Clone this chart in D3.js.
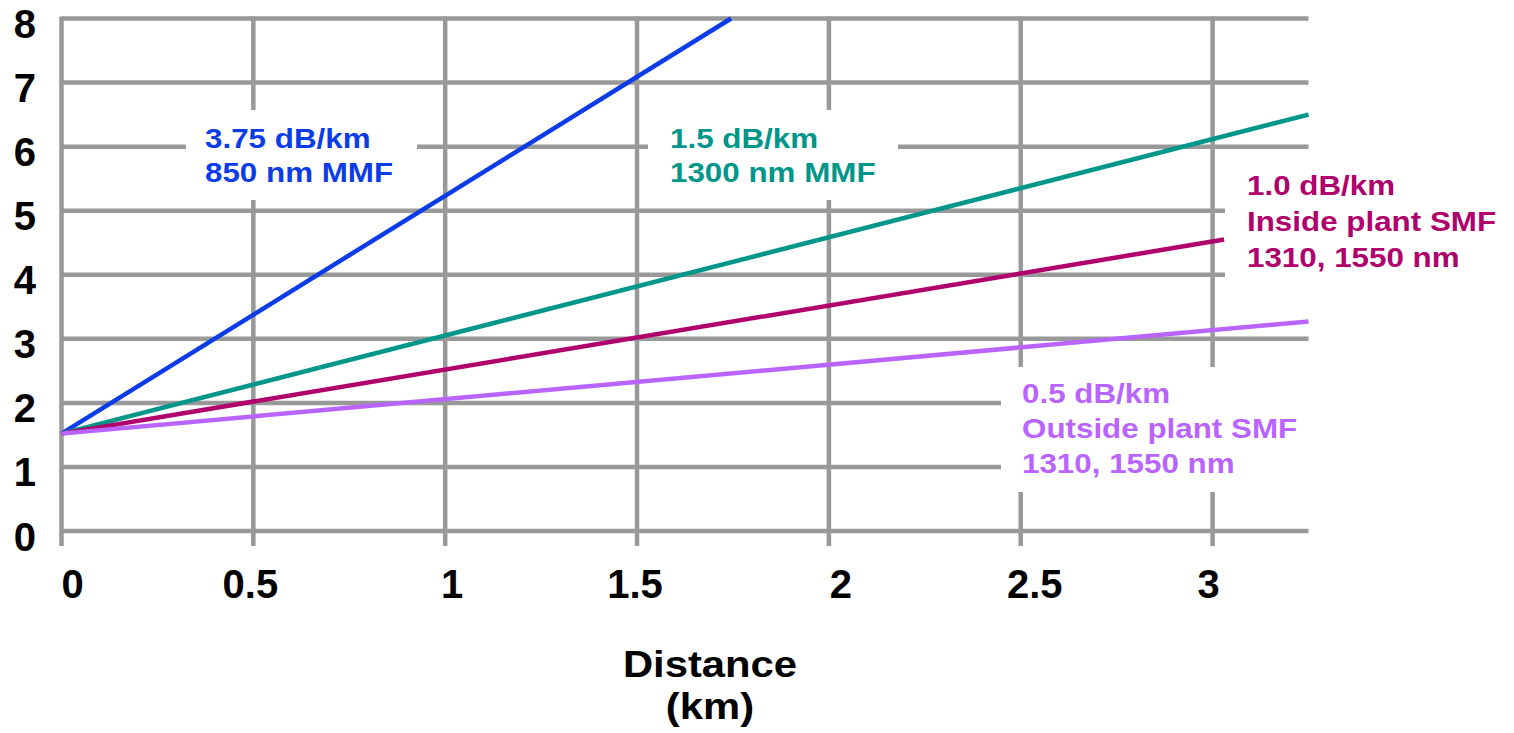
<!DOCTYPE html>
<html>
<head>
<meta charset="utf-8">
<script src="https://cdn.jsdelivr.net/npm/d3@7"></script>
<style>
  html, body { margin: 0; padding: 0; background: #fff; }
  svg { display: block; }
  text { font-family: "Liberation Sans", Arial, sans-serif; font-weight: bold; }
</style>
</head>
<body>
<svg id="chart" width="1514" height="733"></svg>
<script>
// ---- data ----
const xTicks = [0, 0.5, 1, 1.5, 2, 2.5, 3];
const xTickLabels = ["0", "0.5", "1", "1.5", "2", "2.5", "3"];
const yTicks = [0, 1, 2, 3, 4, 5, 6, 7, 8];
const seriesKeys = ["mmf850", "mmf1300", "smfInside", "smfOutside"];
const startDistance = [0, 0, 0, 0];
const startLoss = [1.52, 1.52, 1.52, 1.52];
const endDistance = [1.745, 3.25, 3.03, 3.25];
const endLoss = [8, 6.5, 4.55, 3.27];
const seriesLabels = [
  ["3.75 dB/km", "850 nm MMF"],
  ["1.5 dB/km", "1300 nm MMF"],
  ["1.0 dB/km", "Inside plant SMF", "1310, 1550 nm"],
  ["0.5 dB/km", "Outside plant SMF", "1310, 1550 nm"]
];
const xTitle = ["Distance", "(km)"];

// ---- layout / style ----
const colors = ["#0b3ce8", "#00968a", "#b0006b", "#b964ff"];
const xTickNudge = [11, -3, 7, -2, 12, 14, -4];
const labelLayout = [
  {tx: 205, ty: 148, dy: 34, box: [186, 110, 417, 200]},
  {tx: 670, ty: 148, dy: 34, box: [648, 110, 898, 200]},
  {tx: 1247, ty: 195, dy: 36, box: [1225, 160, 1330, 300]},
  {tx: 1022, ty: 403, dy: 35, box: [1001, 367, 1330, 492]}
];
const gridColor = "#999999";

const svg = d3.select("#chart");
const x = d3.scaleLinear().domain([0, 3.25]).range([61.5, 1308.5]);
const y = d3.scaleLinear().domain([0, 8]).range([531, 18.5]);

// grid
const grid = svg.append("g");
grid.selectAll("line.h").data(yTicks).enter().append("line")
  .attr("x1", x(0)).attr("x2", x(3.25))
  .attr("y1", d => y(d)).attr("y2", d => y(d))
  .attr("stroke", gridColor).attr("stroke-width", 4.5);
grid.selectAll("line.v").data(xTicks).enter().append("line")
  .attr("x1", d => x(d)).attr("x2", d => x(d))
  .attr("y1", y(8) - 2).attr("y2", y(0) + 15)
  .attr("stroke", gridColor).attr("stroke-width", 4.5);

// label boxes (white backgrounds)
svg.append("g").selectAll("rect").data(labelLayout).enter().append("rect")
  .attr("x", d => d.box[0]).attr("y", d => d.box[1])
  .attr("width", d => d.box[2] - d.box[0]).attr("height", d => d.box[3] - d.box[1])
  .attr("fill", "#fff");

// lines
const line = d3.line().x(d => x(d[0])).y(d => y(d[1]));
svg.append("g").selectAll("path").data(seriesKeys).enter().append("path")
  .attr("d", (k, i) => line([[startDistance[i], startLoss[i]], [endDistance[i], endLoss[i]]]))
  .attr("fill", "none")
  .attr("stroke", (k, i) => colors[i])
  .attr("stroke-width", 4.5);

// series labels (one text element per label, lines as tspans)
seriesLabels.forEach((lines, i) => {
  const L = labelLayout[i];
  const t = svg.append("text")
    .attr("transform", `translate(${L.tx},${L.ty}) scale(1.12,1)`)
    .attr("font-size", 28)
    .attr("fill", colors[i]);
  lines.forEach((s, j) => {
    t.append("tspan").attr("x", 0).attr("y", j * L.dy).text(s);
  });
});

// y tick labels
svg.append("g").selectAll("text").data(yTicks).enter().append("text")
  .attr("x", 36).attr("y", d => y(d) + 19.5)
  .attr("text-anchor", "end")
  .attr("font-size", 40)
  .attr("fill", "#000")
  .text(d => d);

// x tick labels
svg.append("g").selectAll("text").data(xTicks).enter().append("text")
  .attr("x", (d, i) => x(d) + xTickNudge[i]).attr("y", 598)
  .attr("text-anchor", "middle")
  .attr("font-size", 40)
  .attr("fill", "#000")
  .text((d, i) => xTickLabels[i]);

// axis title
const title = svg.append("text")
  .attr("transform", "translate(710,677) scale(1.13,1)")
  .attr("text-anchor", "middle")
  .attr("font-size", 37)
  .attr("fill", "#000");
xTitle.forEach((s, j) => {
  title.append("tspan").attr("x", 0).attr("y", j * 42).text(s);
});
</script>
</body>
</html>
